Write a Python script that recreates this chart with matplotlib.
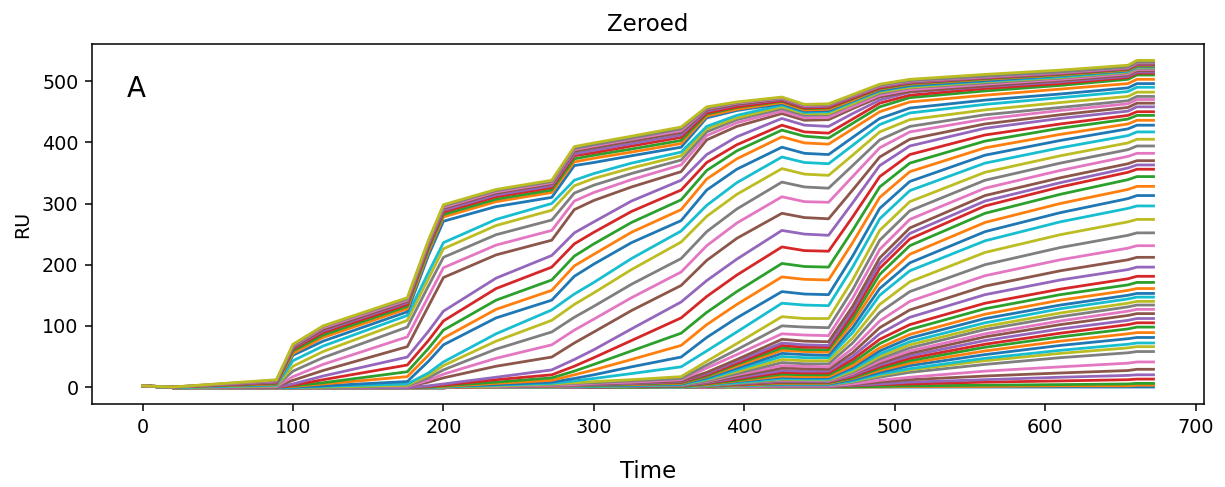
import numpy as np
import matplotlib.pyplot as plt

time_s = [0, 20, 89, 100, 120, 176, 190, 200, 235, 272, 287, 300, 325, 358,
          375, 395, 425, 440, 456, 472, 490, 510, 560, 610, 655, 661, 672]

# RU of each of the 69 curves at one time point, lowest curve first
ru_t0 = [2] * 69
ru_t20 = [-1] * 60 + [0] * 9
ru_t89 = [-1] * 50 + [0, 0, 0, 0, 0,
                      1, 1, 2, 2, 3, 4, 5, 6, 7, 8, 9, 10, 11, 12]
ru_t100 = [-1] * 50 + [0, 1, 2, 3, 5, 11, 17, 26, 34, 43,
                       52, 55, 59, 62, 64, 65, 67, 68, 70]
ru_t120 = [-1] * 48 + [0, 1, 2, 5, 7, 12, 18, 27, 37, 48, 58, 67,
                       75, 81, 85, 89, 92, 94, 97, 99, 100]
ru_t176 = [-1] * 45 + [1, 1, 2, 3, 5, 9, 17, 25, 36, 49, 66, 82, 98, 109, 117,
                       123, 128, 132, 135, 138, 140, 142, 144, 146]
ru_t190 = [-1] * 40 + [0, 0, 0, 1, 2, 8, 11, 15, 19, 23,
                       42, 52, 63, 76, 91, 132, 148, 165, 177, 187,
                       215, 221, 225, 229, 232, 234, 236, 238, 240]
ru_t200 = [-1] * 32 + [0, 0, 0, 0, 0, 0, 0, 0,
                       1, 1, 2, 3, 5, 15, 21, 28, 35, 41,
                       69, 80, 93, 108, 124, 179, 195, 212, 226, 236,
                       271, 278, 282, 286, 289, 292, 294, 296, 298]
ru_t235 = [0] * 32 + [1, 1, 1, 1, 1, 2, 2, 3,
                      4, 6, 8, 12, 16, 34, 47, 62, 75, 87,
                      113, 127, 142, 161, 178, 216, 232, 249, 264, 274,
                      295, 303, 307, 311, 314, 317, 319, 321, 323]
ru_t272 = [0] * 30 + [1, 1, 2, 2, 2, 3, 3, 4, 5, 6,
                      8, 11, 15, 20, 28, 49, 69, 90, 109, 126,
                      142, 158, 175, 196, 215, 240, 256, 273, 289, 300,
                      310, 318, 322, 326, 329, 332, 334, 336, 338]
ru_t287 = [0] * 28 + [1, 1, 2, 2, 3, 3, 3, 4, 4, 6, 7, 10,
                      14, 20, 26, 34, 45, 72, 93, 114, 135, 152,
                      181, 198, 214, 234, 252, 290, 304, 317, 329, 338,
                      362, 368, 373, 378, 381, 385, 388, 390, 393]
ru_t300 = [0] * 26 + [1, 1, 1, 1, 2, 3, 3, 4, 4, 5, 6, 7, 9, 14,
                      20, 28, 37, 48, 61, 90, 111, 132, 154, 171,
                      201, 217, 234, 253, 270, 305, 318, 330, 341, 349,
                      367, 374, 379, 383, 387, 391, 394, 396, 399]
ru_t325 = [0] * 23 + [1, 1, 1, 2, 2, 2, 2, 3, 4, 5, 6, 6, 7, 8, 10, 12, 22,
                      33, 45, 59, 76, 95, 125, 146, 168, 192, 210,
                      236, 253, 269, 287, 304, 327, 339, 349, 358, 366,
                      378, 384, 389, 394, 398, 402, 405, 407, 410]
ru_t358 = [0] * 20 + [1, 1, 1, 2, 2, 2, 3, 3, 4, 4,
                      5, 6, 7, 8, 9, 10, 12, 14, 17, 33,
                      49, 68, 88, 113, 139, 166, 188, 210, 237, 255,
                      272, 290, 306, 322, 338, 352, 363, 371, 378, 384,
                      392, 398, 403, 408, 412, 416, 419, 422, 425]
ru_t375 = [0, 0, 0, 0, 0, 0, 0, 1, 1, 1,
           1, 1, 1, 2, 2, 2, 2, 2, 3, 3,
           4, 4, 5, 6, 7, 8, 9, 10, 12, 13,
           15, 17, 18, 20, 22, 24, 31, 36, 42, 59,
           81, 102, 122, 148, 174, 207, 231, 254, 279, 297,
           322, 340, 354, 367, 380, 404, 411, 417, 422, 426,
           440, 443, 446, 448, 451, 453, 455, 456, 458]
ru_t395 = [0, 0, 0, 1, 1, 1, 1, 2, 2, 2,
           3, 3, 4, 4, 5, 5, 6, 6, 7, 7,
           9, 10, 11, 13, 15, 17, 20, 22, 25, 28,
           31, 34, 37, 39, 42, 45, 53, 61, 71, 90,
           113, 135, 156, 183, 209, 243, 268, 291, 315, 334,
           356, 373, 386, 396, 409, 426, 432, 437, 440, 444,
           452, 454, 457, 458, 461, 462, 464, 465, 466]
ru_t425 = [0, 0, 0, 1, 1, 2, 2, 3, 4, 4,
           5, 6, 7, 8, 9, 10, 11, 12, 13, 14,
           16, 18, 21, 24, 27, 31, 35, 40, 45, 50,
           55, 60, 64, 68, 72, 78, 87, 100, 115, 137,
           156, 180, 202, 229, 256, 284, 311, 335, 357, 376,
           392, 409, 420, 428, 439, 447, 451, 455, 458, 461,
           463, 465, 467, 468, 470, 471, 472, 473, 474]
ru_t440 = [0, 0, 0, 1, 1, 2, 2, 3, 4, 4,
           5, 6, 7, 8, 9, 10, 11, 12, 12, 13,
           15, 17, 20, 23, 26, 30, 34, 38, 43, 48,
           53, 58, 61, 65, 69, 75, 85, 98, 112, 134,
           152, 176, 197, 223, 250, 277, 303, 327, 348, 367,
           382, 399, 410, 417, 428, 436, 440, 444, 447, 449,
           451, 453, 455, 456, 458, 459, 460, 461, 462]
ru_t456 = [0, 0, 0, 1, 1, 2, 2, 3, 4, 4,
           5, 6, 7, 8, 9, 10, 10, 11, 12, 13,
           15, 17, 20, 23, 26, 29, 33, 38, 43, 48,
           52, 57, 61, 65, 68, 74, 84, 97, 112, 133,
           151, 175, 196, 222, 248, 275, 302, 325, 346, 365,
           380, 397, 407, 415, 426, 437, 441, 445, 447, 450,
           452, 454, 456, 457, 459, 460, 461, 462, 463]
ru_t472 = [0, 0, 0, 2, 3, 4, 5, 8, 9, 10,
           12, 14, 15, 17, 19, 21, 22, 24, 26, 29,
           32, 35, 40, 45, 50, 56, 63, 72, 80, 89,
           97, 105, 112, 119, 125, 132, 145, 159, 175, 196,
           214, 236, 256, 278, 301, 322, 344, 362, 379, 395,
           408, 422, 431, 438, 447, 455, 458, 462, 463, 466,
           468, 469, 471, 472, 474, 475, 476, 477, 478]
ru_t490 = [0, 0, 1, 4, 5, 8, 11, 16, 19, 21,
           24, 27, 30, 33, 36, 39, 42, 46, 50, 54,
           59, 64, 71, 78, 87, 97, 108, 122, 135, 150,
           161, 172, 184, 194, 202, 211, 225, 240, 256, 275,
           292, 310, 327, 344, 362, 376, 391, 404, 417, 429,
           439, 450, 458, 464, 469, 474, 477, 480, 482, 484,
           485, 487, 488, 489, 491, 492, 492, 493, 495]
ru_t510 = [0, 1, 2, 5, 8, 12, 16, 24, 28, 30,
           35, 39, 43, 47, 51, 55, 59, 64, 69, 74,
           80, 86, 94, 102, 114, 126, 140, 156, 172, 190,
           203, 217, 231, 242, 251, 260, 274, 288, 303, 321,
           336, 352, 366, 380, 394, 405, 417, 426, 437, 448,
           456, 466, 473, 477, 482, 483, 486, 489, 490, 492,
           493, 495, 496, 497, 498, 499, 500, 501, 503]
ru_t560 = [0, 1, 3, 8, 12, 18, 26, 37, 43, 47,
           53, 59, 65, 70, 76, 82, 87, 94, 99, 105,
           112, 119, 128, 137, 151, 165, 182, 200, 220, 239,
           254, 269, 284, 296, 304, 313, 325, 338, 351, 366,
           379, 391, 402, 412, 423, 430, 438, 445, 453, 462,
           469, 477, 484, 488, 491, 492, 495, 497, 499, 500,
           501, 503, 504, 505, 506, 507, 507, 508, 511]
ru_t610 = [0, 2, 4, 10, 16, 23, 33, 48, 55, 60,
           68, 75, 82, 88, 95, 102, 108, 115, 121, 128,
           134, 142, 151, 160, 175, 190, 208, 228, 249, 270,
           285, 300, 315, 327, 334, 342, 354, 366, 378, 391,
           403, 413, 423, 430, 439, 445, 452, 457, 465, 473,
           479, 487, 493, 496, 499, 501, 503, 505, 506, 507,
           509, 510, 511, 512, 513, 514, 514, 515, 518]
ru_t655 = [0, 2, 5, 12, 19, 27, 39, 56, 64, 70,
           79, 87, 95, 102, 109, 117, 124, 131, 137, 144,
           150, 158, 167, 177, 192, 208, 227, 248, 270, 292,
           308, 323, 339, 351, 358, 365, 377, 388, 399, 411,
           422, 430, 438, 444, 451, 457, 463, 468, 475, 483,
           489, 496, 503, 506, 508, 510, 512, 514, 515, 516,
           517, 518, 519, 520, 521, 522, 522, 523, 526]
# level after the small step near 658 s, held to the end
ru_end = [0, 3, 6, 13, 20, 29, 41, 58, 66, 72,
          81, 89, 98, 105, 112, 120, 127, 134, 140, 147,
          153, 161, 171, 181, 196, 212, 231, 252, 274, 296,
          313, 328, 344, 356, 363, 370, 382, 394, 405, 417,
          428, 436, 444, 450, 458, 464, 470, 475, 482, 490,
          496, 503, 510, 513, 515, 517, 519, 521, 522, 523,
          524, 525, 526, 527, 528, 529, 530, 531, 534]

rows = [ru_t0, ru_t20, ru_t89, ru_t100, ru_t120, ru_t176, ru_t190, ru_t200,
        ru_t235, ru_t272, ru_t287, ru_t300, ru_t325, ru_t358, ru_t375,
        ru_t395, ru_t425, ru_t440, ru_t456, ru_t472, ru_t490, ru_t510,
        ru_t560, ru_t610, ru_t655, ru_end, ru_end]
ru = np.array(rows, dtype=float)  # shape (time points, curves)

fig, ax = plt.subplots(figsize=(12.25, 4.87), dpi=100)
fig.subplots_adjust(left=0.0751, right=0.9829, top=0.9097, bottom=0.1704)

ax.plot(time_s, ru, lw=2.0)

ax.set_title("Zeroed", fontsize=16.5, pad=9)
ax.set_xlabel("Time", fontsize=16.5, labelpad=17)
ax.set_ylabel("RU", fontsize=13.8, labelpad=7)
ax.text(0.031, 0.853, "A", transform=ax.transAxes, fontsize=20,
        ha="left", va="baseline")

ax.tick_params(labelsize=13.8, length=4.9, width=1.1, pad=4.9)
for sp in ax.spines.values():
    sp.set_linewidth(1.1)

fig.savefig("out.png", dpi=100)
